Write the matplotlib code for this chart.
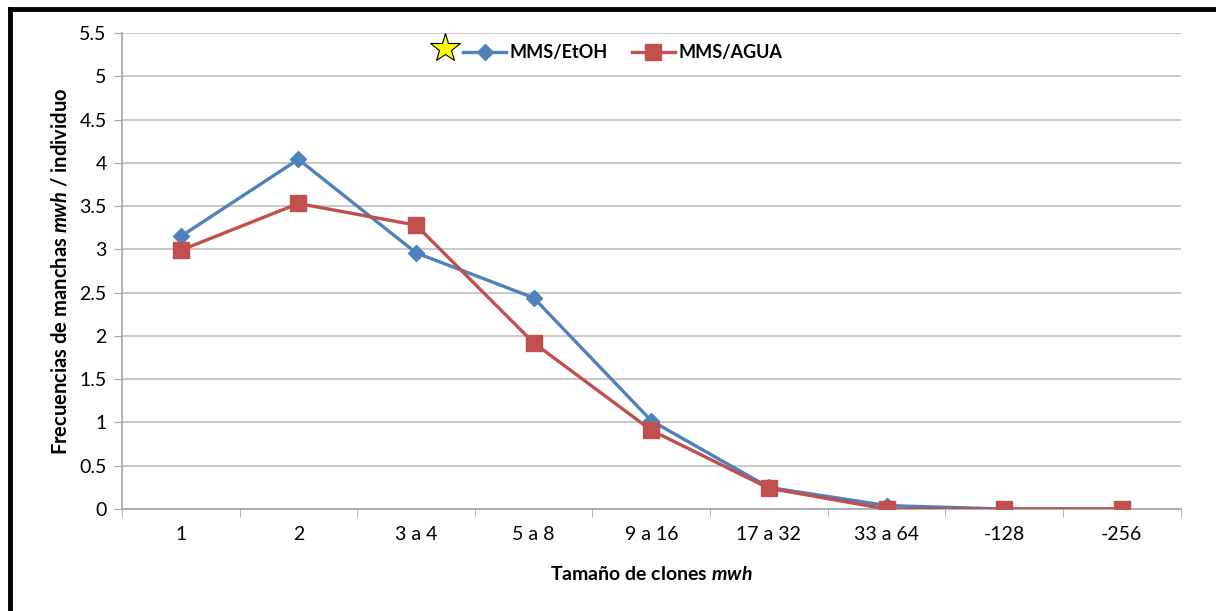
import matplotlib
matplotlib.use('Agg')
import matplotlib.pyplot as plt
from matplotlib.lines import Line2D
import numpy as np

# fuente parecida a Calibri
plt.rcParams['font.family'] = ['Lato', 'DejaVu Sans']
plt.rcParams['mathtext.fontset'] = 'custom'
plt.rcParams['mathtext.it'] = 'Lato:italic:bold'
plt.rcParams['mathtext.rm'] = 'Lato:bold'
plt.rcParams['mathtext.bf'] = 'Lato:bold'

# datos
categorias = ['1', '2', '3 a 4', '5 a 8', '9 a 16', '17 a 32', '33 a 64', '-128', '-256']
mms_etoh = [3.15, 4.04, 2.96, 2.44, 1.02, 0.25, 0.04, 0.0, 0.0]
mms_agua = [2.99, 3.53, 3.28, 1.92, 0.91, 0.24, 0.0, 0.0, 0.0]
y_ticks = [0, 0.5, 1, 1.5, 2, 2.5, 3, 3.5, 4, 4.5, 5, 5.5]

azul = '#4F81BD'
rojo = '#C0504D'
gris = '#BFBFBF'

fig = plt.figure(figsize=(12.16, 6.11), dpi=100)
ax = fig.add_axes([0.1003, 0.1669, 0.8706, 0.7791])

x = np.arange(len(categorias))
ax.plot(x, mms_etoh, color=azul, lw=2.4, marker='D', ms=8.5,
        markerfacecolor=azul, markeredgecolor=azul, label='MMS/EtOH', zorder=3)
ax.plot(x, mms_agua, color=rojo, lw=2.4, marker='s', ms=11,
        markerfacecolor=rojo, markeredgecolor=rojo, label='MMS/AGUA', zorder=4)

ax.set_xlim(-0.5, len(categorias) - 0.5)
ax.set_ylim(0, 5.5)
ax.set_yticks(y_ticks)
ax.set_yticklabels([f'{v:g}' for v in y_ticks])
ax.set_xticks(x)
ax.set_xticklabels(categorias)
ax.set_xticks(np.arange(-0.5, len(categorias)), minor=True)

ax.grid(axis='y', color=gris, lw=1.2, zorder=0)
ax.set_axisbelow(True)
for s in ['top', 'right']:
    ax.spines[s].set_visible(False)
for s in ['left', 'bottom']:
    ax.spines[s].set_color('#A6A6A6')
    ax.spines[s].set_linewidth(1.2)

ax.tick_params(axis='y', length=6, color='#A6A6A6', labelsize=14, pad=5)
ax.tick_params(axis='x', which='major', length=0, labelsize=14, pad=12)
ax.tick_params(axis='x', which='minor', length=6, color='#A6A6A6')

ax.set_ylabel(r'Frecuencias de manchas $mwh$ / individuo', fontsize=14.5,
              fontweight='bold', labelpad=6)
ax.set_xlabel(r'Tamaño de clones $mwh$', fontsize=14, fontweight='bold', labelpad=16)

# leyenda con estrella
ax.plot([0.305], [0.968], marker='*', ms=22, markerfacecolor='#FFFF00',
        markeredgecolor='black', mew=0.8, transform=ax.transAxes, clip_on=False)
ax.legend(loc='center', bbox_to_anchor=(0.473, 0.958), frameon=False,
          prop={'weight': 'bold', 'size': 13}, ncol=2, handlelength=2.4,
          columnspacing=1.3, handletextpad=0.2)

# marco negro arriba e izquierda
fig.add_artist(Line2D([0.008, 1.0], [0.985, 0.985], color='black', lw=3.5,
                      transform=fig.transFigure))
fig.add_artist(Line2D([0.008, 0.008], [0.0, 0.985], color='black', lw=3.5,
                      transform=fig.transFigure))

fig.savefig('out.png', dpi=100)
